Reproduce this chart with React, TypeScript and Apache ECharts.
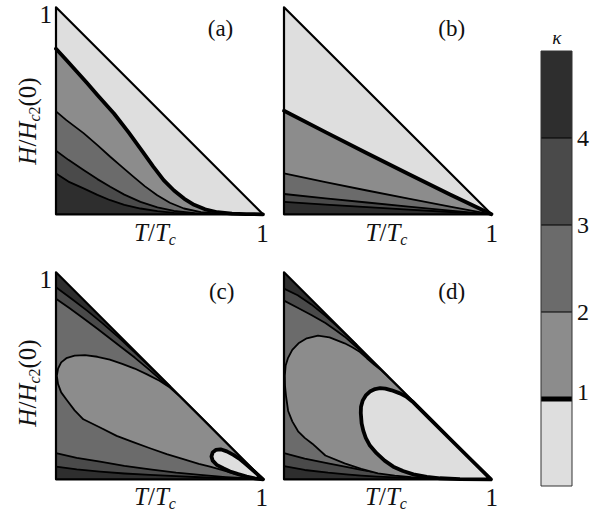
import React, { useEffect, useRef } from "react";
import * as echarts from "echarts";

type P = [number, number];

const FONT = '"Liberation Serif", "DejaVu Serif", serif';
const INK = "#111";

const KAPPA_LEVELS = [0, 1, 2, 3, 4, 5];
const KAPPA_TICKS = [1, 2, 3, 4];
const BAND_COLORS = ["#dedede", "#8c8c8c", "#6b6b6b", "#4a4a4a", "#2e2e2e"];
const PANEL_LABELS = ["(a)", "(b)", "(c)", "(d)"];
const END_LABEL = "1";

const TRIANGLE: P[] = [[0, 0], [1, 0], [0, 1]];

// panel (a): kappa = 1..4 contours
const A_K1: P[] = [[0, 0.8], [0.05, 0.745], [0.1, 0.69], [0.15, 0.634], [0.2, 0.576], [0.28, 0.487], [0.35, 0.397], [0.42, 0.3], [0.47, 0.23], [0.52, 0.165], [0.57, 0.115], [0.62, 0.075], [0.667, 0.046], [0.72, 0.024], [0.78, 0.01], [0.85, 0.003], [0.92, 0.001], [1, 0]];
const A_K2: P[] = [[0, 0.497], [0.05, 0.455], [0.133, 0.392], [0.2, 0.334], [0.262, 0.278], [0.32, 0.228], [0.375, 0.181], [0.43, 0.135], [0.489, 0.092], [0.55, 0.056], [0.618, 0.028], [0.7, 0.011], [0.78, 0.003], [0.88, 0.001], [1, 0]];
const A_K3: P[] = [[0, 0.307], [0.06, 0.263], [0.133, 0.214], [0.2, 0.17], [0.262, 0.133], [0.33, 0.095], [0.408, 0.06], [0.49, 0.033], [0.57, 0.016], [0.67, 0.006], [0.78, 0.002], [1, 0]];
const A_K4: P[] = [[0, 0.197], [0.06, 0.158], [0.133, 0.125], [0.2, 0.094], [0.262, 0.068], [0.33, 0.046], [0.408, 0.028], [0.49, 0.015], [0.57, 0.007], [0.67, 0.003], [0.78, 0.001], [1, 0]];

// panel (b)
const B_K1: P[] = [[0, 0.5], [0.2, 0.397], [0.4, 0.295], [0.6, 0.195], [0.8, 0.096], [1, 0]];
const B_K2: P[] = [[0, 0.198], [0.2, 0.155], [0.4, 0.115], [0.6, 0.076], [0.8, 0.037], [1, 0]];
const B_K3: P[] = [[0, 0.098], [0.2, 0.077], [0.4, 0.057], [0.6, 0.037], [0.8, 0.018], [1, 0]];
const B_K4: P[] = [[0, 0.06], [0.2, 0.047], [0.4, 0.035], [0.6, 0.023], [0.8, 0.011], [1, 0]];

// panel (c)
const C_TOP3: P[] = [[0, 0.872], [0.066, 0.826], [0.132, 0.778], [0.2, 0.727], [0.3, 0.65], [0.38, 0.588], [0.45, 0.53], [0.52, 0.468], [0.6, 0.394], [0.68, 0.318], [0.75, 0.25]];
const C_TOP4: P[] = [[0, 0.928], [0.075, 0.872], [0.15, 0.815], [0.225, 0.753], [0.3, 0.688], [0.375, 0.618], [0.45, 0.547], [0.55, 0.45]];
const C_BOT3: P[] = [[0, 0.126], [0.1, 0.104], [0.213, 0.085], [0.33, 0.065], [0.454, 0.048], [0.58, 0.032], [0.696, 0.021], [0.82, 0.011], [0.937, 0.004], [1, 0]];
const C_BOT4: P[] = [[0, 0.061], [0.1, 0.048], [0.213, 0.037], [0.33, 0.028], [0.454, 0.021], [0.58, 0.015], [0.696, 0.01], [0.82, 0.005], [1, 0]];
const C_K2: P[] = [[0.004, 0.5], [0.01, 0.535], [0.025, 0.565], [0.05, 0.585], [0.09, 0.597], [0.14, 0.6], [0.2, 0.592], [0.26, 0.578], [0.32, 0.558], [0.38, 0.535], [0.44, 0.507], [0.5, 0.476], [0.55, 0.443], [0.6, 0.398], [0.64, 0.359], [0.7, 0.299], [0.8, 0.199], [0.9, 0.099], [1, 0], [0.93, 0.012], [0.857, 0.029], [0.8, 0.045], [0.744, 0.061], [0.69, 0.075], [0.615, 0.097], [0.535, 0.122], [0.454, 0.15], [0.373, 0.18], [0.293, 0.21], [0.213, 0.25], [0.132, 0.29], [0.09, 0.333], [0.052, 0.383], [0.025, 0.42], [0.01, 0.46], [0.004, 0.5]];
const C_K1: P[] = [[1, 0], [0.96, 0.036], [0.921, 0.07], [0.885, 0.1], [0.857, 0.118], [0.825, 0.135], [0.795, 0.145], [0.772, 0.142], [0.757, 0.13], [0.751, 0.11], [0.757, 0.09], [0.776, 0.07], [0.81, 0.052], [0.841, 0.038], [0.88, 0.025], [0.921, 0.013], [0.96, 0.005], [1, 0]];

// panel (d)
const D_TOP3: P[] = [[0, 0.863], [0.066, 0.829], [0.132, 0.794], [0.2, 0.755], [0.25, 0.72], [0.293, 0.689], [0.35, 0.639], [0.4, 0.595], [0.45, 0.548], [0.5, 0.5]];
const D_TOP4: P[] = [[0, 0.921], [0.066, 0.889], [0.132, 0.845], [0.2, 0.79], [0.25, 0.745], [0.3, 0.698], [0.35, 0.65]];
const D_BOT3: P[] = [[0, 0.126], [0.1, 0.1], [0.213, 0.077], [0.3, 0.06], [0.373, 0.045], [0.45, 0.032], [0.535, 0.021], [0.65, 0.011], [0.8, 0.004], [1, 0]];
const D_BOT4: P[] = [[0, 0.064], [0.1, 0.045], [0.213, 0.032], [0.3, 0.024], [0.373, 0.018], [0.45, 0.013], [0.535, 0.009], [0.65, 0.005], [0.8, 0.002], [1, 0]];
const D_K2: P[] = [[0.004, 0.5], [0.008, 0.55], [0.019, 0.585], [0.04, 0.625], [0.07, 0.657], [0.11, 0.681], [0.164, 0.694], [0.22, 0.686], [0.293, 0.657], [0.33, 0.638], [0.367, 0.615], [0.4, 0.585], [0.438, 0.552], [0.47, 0.526], [0.55, 0.449], [0.7, 0.299], [0.85, 0.149], [1, 0], [0.85, 0.002], [0.75, 0.004], [0.615, 0.01], [0.535, 0.018], [0.454, 0.029], [0.373, 0.05], [0.293, 0.077], [0.2, 0.115], [0.137, 0.172], [0.1, 0.2], [0.068, 0.232], [0.04, 0.28], [0.02, 0.33], [0.01, 0.4], [0.005, 0.45], [0.004, 0.5]];
const D_K1: P[] = [[1, 0], [0.9, 0.098], [0.8, 0.197], [0.7, 0.297], [0.62, 0.376], [0.59, 0.4], [0.56, 0.415], [0.52, 0.43], [0.49, 0.438], [0.464, 0.44], [0.44, 0.436], [0.415, 0.424], [0.395, 0.405], [0.38, 0.38], [0.372, 0.35], [0.371, 0.32], [0.375, 0.27], [0.383, 0.235], [0.395, 0.2], [0.415, 0.163], [0.447, 0.126], [0.486, 0.09], [0.528, 0.061], [0.575, 0.04], [0.625, 0.024], [0.69, 0.012], [0.754, 0.005], [0.85, 0.001], [1, 0]];

type Layer = { curve: P[]; close: P[]; fill: string | null; lw: number; closed?: boolean };

const THIN = 1.8;
const THICK = 3.8;
const FRAME = 2.2;

const BOTTOM: P[] = [[0, 0]];
const CORNER: P[] = [[0, 1]];

const PANELS: Layer[][] = [
  [
    { curve: TRIANGLE, close: [], fill: BAND_COLORS[0], lw: 0 },
    { curve: A_K1, close: BOTTOM, fill: BAND_COLORS[1], lw: THICK },
    { curve: A_K2, close: BOTTOM, fill: BAND_COLORS[2], lw: THIN },
    { curve: A_K3, close: BOTTOM, fill: BAND_COLORS[3], lw: THIN },
    { curve: A_K4, close: BOTTOM, fill: BAND_COLORS[4], lw: THIN },
    { curve: TRIANGLE, close: [], fill: null, lw: FRAME, closed: true },
  ],
  [
    { curve: TRIANGLE, close: [], fill: BAND_COLORS[0], lw: 0 },
    { curve: B_K1, close: BOTTOM, fill: BAND_COLORS[1], lw: THICK },
    { curve: B_K2, close: BOTTOM, fill: BAND_COLORS[2], lw: THIN },
    { curve: B_K3, close: BOTTOM, fill: BAND_COLORS[3], lw: THIN },
    { curve: B_K4, close: BOTTOM, fill: BAND_COLORS[4], lw: THIN },
    { curve: TRIANGLE, close: [], fill: null, lw: FRAME, closed: true },
  ],
  [
    { curve: TRIANGLE, close: [], fill: BAND_COLORS[2], lw: 0 },
    { curve: C_TOP3, close: CORNER, fill: BAND_COLORS[3], lw: THIN },
    { curve: C_TOP4, close: CORNER, fill: BAND_COLORS[4], lw: THIN },
    { curve: C_BOT3, close: BOTTOM, fill: BAND_COLORS[3], lw: THIN },
    { curve: C_BOT4, close: BOTTOM, fill: BAND_COLORS[4], lw: THIN },
    { curve: C_K2, close: [], fill: BAND_COLORS[1], lw: THIN, closed: true },
    { curve: C_K1, close: [], fill: BAND_COLORS[0], lw: THICK, closed: true },
    { curve: TRIANGLE, close: [], fill: null, lw: FRAME, closed: true },
  ],
  [
    { curve: TRIANGLE, close: [], fill: BAND_COLORS[2], lw: 0 },
    { curve: D_TOP3, close: CORNER, fill: BAND_COLORS[3], lw: THIN },
    { curve: D_TOP4, close: CORNER, fill: BAND_COLORS[4], lw: THIN },
    { curve: D_BOT3, close: BOTTOM, fill: BAND_COLORS[3], lw: THIN },
    { curve: D_BOT4, close: BOTTOM, fill: BAND_COLORS[4], lw: THIN },
    { curve: D_K2, close: [], fill: BAND_COLORS[1], lw: THIN, closed: true },
    { curve: D_K1, close: [], fill: BAND_COLORS[0], lw: THICK, closed: true },
    { curve: TRIANGLE, close: [], fill: null, lw: FRAME, closed: true },
  ],
];

const GRIDS = [
  { left: 56, top: 7.3, width: 207, height: 207 },
  { left: 284, top: 7.3, width: 207.5, height: 207 },
  { left: 56, top: 272.3, width: 207, height: 207 },
  { left: 284, top: 272.3, width: 207, height: 207 },
];
const CBAR_GRID = { left: 541, top: 51, width: 31, height: 435 };

const LABEL_POS = [
  { tag: [220.5, 28], top1: [45.8, 14.2], end1: [262.5, 233], tx: [155, 232.5], hy: [27.5, 121] },
  { tag: [451.7, 28], top1: null, end1: [491.7, 233], tx: [386.5, 232.5], hy: null },
  { tag: [221.7, 291.7], top1: [45.8, 279], end1: [261.7, 497.5], tx: [155, 496], hy: [27.5, 383] },
  { tag: [451.7, 291.7], top1: null, end1: [491.7, 497.5], tx: [386, 496], hy: null },
];

function layerSeries(gi: number, layer: Layer, z: number) {
  return {
    type: "custom",
    coordinateSystem: "cartesian2d",
    xAxisIndex: gi,
    yAxisIndex: gi,
    data: layer.curve,
    z,
    silent: true,
    renderItem: (params: any, api: any) => {
      if (params.dataIndex !== 0) return null;
      const c = layer.curve.map((p) => api.coord(p));
      const children: any[] = [];
      if (layer.fill) {
        children.push({
          type: "polygon",
          shape: { points: c.concat(layer.close.map((p) => api.coord(p))) },
          style: { fill: layer.fill, stroke: layer.fill, lineWidth: 0.5 },
        });
      }
      if (layer.lw > 0) {
        const pts = layer.closed ? c.concat([c[0]]) : c;
        children.push({
          type: "polyline",
          shape: { points: pts },
          style: { fill: null, stroke: "#000", lineWidth: layer.lw, lineJoin: "round", lineCap: "round" },
        });
      }
      return { type: "group", children };
    },
  };
}

const mainRich = {
  i: { fontFamily: FONT, fontSize: 25, fontStyle: "italic", lineHeight: 30, fill: INK, color: INK, verticalAlign: "middle" },
  m: { fontFamily: FONT, fontSize: 25, lineHeight: 30, fill: INK, color: INK, verticalAlign: "middle" },
  s: { fontFamily: FONT, fontSize: 16, fontStyle: "italic", lineHeight: 14, fill: INK, color: INK, verticalAlign: "bottom" },
  n: { fontFamily: FONT, fontSize: 16, lineHeight: 14, fill: INK, color: INK, verticalAlign: "bottom" },
};

function textEl(x: number, y: number, text: string, extra: any = {}) {
  return {
    type: "text",
    x,
    y,
    z: 100,
    silent: true,
    rotation: extra.rotation || 0,
    style: {
      text,
      fontFamily: FONT,
      fontSize: extra.fontSize || 24,
      fontStyle: extra.fontStyle || "normal",
      fill: INK,
      align: "center",
      verticalAlign: "middle",
      textAlign: "center",
      textVerticalAlign: "middle",
      rich: extra.rich,
    },
  };
}

export default function App() {
  const ref = useRef<HTMLDivElement>(null);
  useEffect(() => {
    if (!ref.current) return;
    const chart = echarts.init(ref.current, undefined, { renderer: "svg" });

    const grids: any[] = GRIDS.map((g) => ({ ...g }));
    grids.push({ ...CBAR_GRID });
    const xAxes: any[] = grids.map((_, i) => ({
      type: "value",
      gridIndex: i,
      min: 0,
      max: 1,
      show: false,
    }));
    const yAxes: any[] = GRIDS.map((_, i) => ({
      type: "value",
      gridIndex: i,
      min: 0,
      max: 1,
      show: false,
    }));
    yAxes.push({
      type: "value",
      gridIndex: 4,
      min: 0,
      max: 5,
      interval: 1,
      position: "right",
      axisLine: { show: false },
      axisTick: { show: false },
      splitLine: { show: false },
      axisLabel: {
        show: true,
        margin: 5,
        fontFamily: FONT,
        fontSize: 24,
        color: INK,
        formatter: (v: number) => (KAPPA_TICKS.includes(v) ? (v === 1 ? "{one|1}" : String(v)) : ""),
        rich: { one: { fontFamily: FONT, fontSize: 24, color: INK, padding: [0, 0, 14, 0] } },
      },
    });

    const series: any[] = [];
    let z = 2;
    PANELS.forEach((layers, gi) => {
      layers.forEach((layer) => {
        series.push(layerSeries(gi, layer, z));
        z += 1;
      });
    });

    series.push({
      type: "custom",
      coordinateSystem: "cartesian2d",
      xAxisIndex: 4,
      yAxisIndex: 4,
      z: z + 1,
      silent: true,
      data: BAND_COLORS.map((_, i) => [0.5, KAPPA_LEVELS[i], KAPPA_LEVELS[i + 1]]),
      encode: { x: 0, y: [1, 2] },
      renderItem: (params: any, api: any) => {
        const lo = api.value(1);
        const hi = api.value(2);
        const p0 = api.coord([0, hi]);
        const p1 = api.coord([1, lo]);
        return {
          type: "rect",
          shape: { x: p0[0], y: p0[1], width: p1[0] - p0[0], height: p1[1] - p0[1] },
          style: { fill: BAND_COLORS[params.dataIndex] },
        };
      },
    });
    series.push({
      type: "custom",
      coordinateSystem: "cartesian2d",
      xAxisIndex: 4,
      yAxisIndex: 4,
      z: z + 2,
      silent: true,
      data: KAPPA_TICKS.map((k) => [0.5, k]),
      renderItem: (params: any, api: any) => {
        const k = api.value(1);
        const a = api.coord([0, k]);
        const b = api.coord([1, k]);
        return {
          type: "line",
          shape: { x1: a[0], y1: a[1], x2: b[0], y2: b[1] },
          style: { stroke: "#000", lineWidth: k === 1 ? 5 : 1 },
        };
      },
    });
    series.push({
      type: "custom",
      coordinateSystem: "cartesian2d",
      xAxisIndex: 4,
      yAxisIndex: 4,
      z: z + 3,
      silent: true,
      data: [[0.5, 0]],
      renderItem: (params: any, api: any) => {
        const p0 = api.coord([0, KAPPA_LEVELS[KAPPA_LEVELS.length - 1]]);
        const p1 = api.coord([1, KAPPA_LEVELS[0]]);
        return {
          type: "rect",
          shape: { x: p0[0], y: p0[1], width: p1[0] - p0[0], height: p1[1] - p0[1] },
          style: { fill: null, stroke: "#333", lineWidth: 1 },
        };
      },
    });

    const graphics: any[] = [];
    LABEL_POS.forEach((lp, i) => {
      graphics.push(textEl(lp.tag[0], lp.tag[1], PANEL_LABELS[i], { fontSize: 23 }));
      graphics.push(textEl(lp.end1[0], lp.end1[1], END_LABEL, { fontSize: 25 }));
      if (lp.top1) graphics.push(textEl(lp.top1[0], lp.top1[1], END_LABEL, { fontSize: 25 }));
      graphics.push(textEl(lp.tx[0], lp.tx[1], "{i|T}{m|/}{i|T}{s|c}", { rich: mainRich }));
      if (lp.hy)
        graphics.push(
          textEl(lp.hy[0], lp.hy[1], "{i|H}{m|/}{i|H}{s|c}{n|2}{m|(0)}", { rich: mainRich, rotation: Math.PI / 2 })
        );
    });
    graphics.push(textEl(556.7, 37.5, "κ", { fontSize: 19, fontStyle: "italic" }));

    chart.setOption({
      animation: false,
      backgroundColor: "#fff",
      grid: grids,
      xAxis: xAxes,
      yAxis: yAxes,
      series,
      graphic: { elements: graphics },
    });
    return () => chart.dispose();
  }, []);
  return (
    <div
      ref={ref}
      style={{ position: "fixed", left: 0, top: 0, width: 602, height: 513, background: "#fff" }}
    />
  );
}
